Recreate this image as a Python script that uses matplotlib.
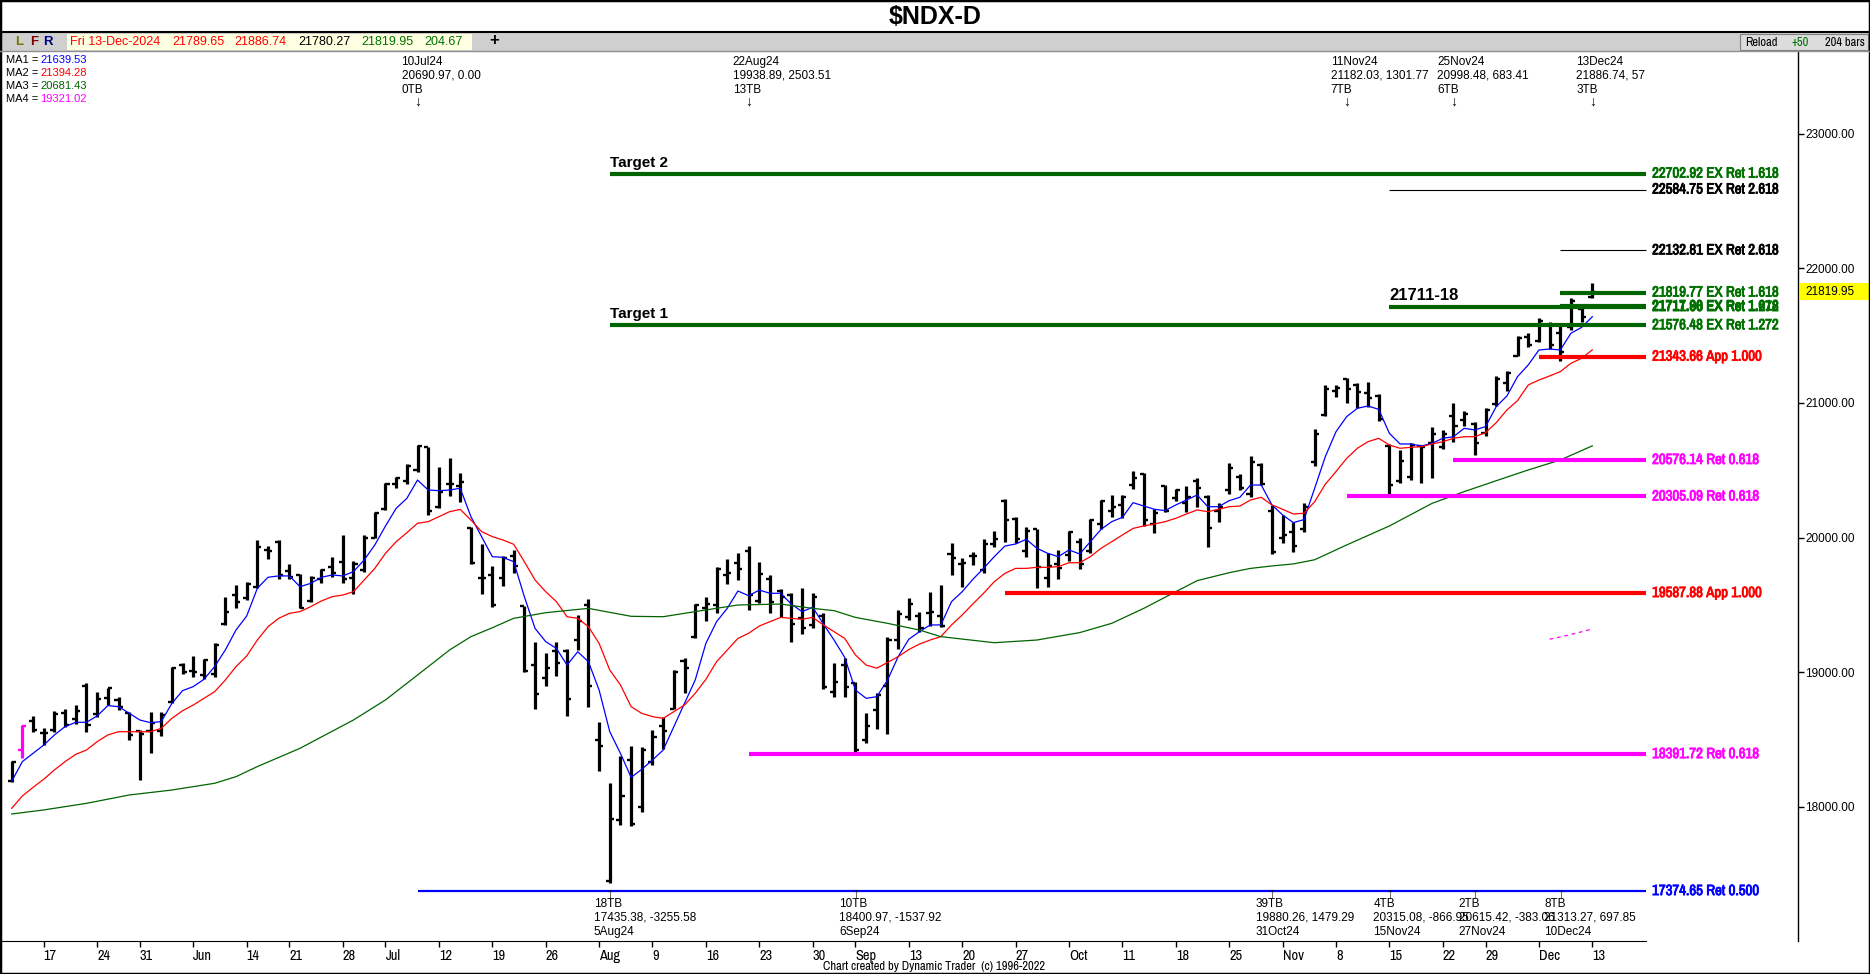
import pandas as pd
import matplotlib
matplotlib.use('Agg')
import matplotlib.pyplot as plt
from matplotlib import font_manager, patheffects
from matplotlib.transforms import blended_transform_factory, offset_copy
from matplotlib.patches import Rectangle

# trading days shown on the chart (May 14 .. Dec 13, 2024)
holidays = ['2024-05-27', '2024-06-19', '2024-07-04', '2024-09-02', '2024-11-28']
dates = pd.bdate_range('2024-05-14', '2024-12-13')
dates = dates[~dates.isin(pd.to_datetime(holidays))]

opens = [
    18190, 18425, 18640, 18545, 18570, 18700, 18650, 18900, 18690, 18810,
    18790, 18700, 18560, 18560, 18560, 18780, 19050, 19010, 18980, 18990,
    19360, 19570, 19550, 19630, 19910, 19970, 19750, 19720, 19530, 19690,
    19780, 19820, 19700, 19760, 20000, 20210, 20400, 20420, 20500, 20670,
    20230, 20400, 20380, 20070, 19700, 19720, 19700, 19860, 19490, 19050,
    18960, 19160, 19160, 19240, 19500, 18500, 17450, 17900, 18350, 18000,
    18330, 18600, 18730, 19080, 19260, 19480, 19500, 19720, 19810, 19900,
    19530, 19690, 19600, 19570, 19400, 19350, 19420, 18850, 19050, 18920,
    18500, 18720, 18900, 19240, 19410, 19420, 19440, 19420, 19880, 19800,
    19860, 19760, 19950, 20270, 20140, 19900, 20060, 19700, 19800, 19870,
    19970, 19900, 20100, 20200, 20240, 20390, 20470, 20100, 20380, 20290,
    20260, 20420, 20300, 20200, 20350, 20450, 20320, 20540, 20200, 20000,
    20040, 20060, 20560, 20910, 21090, 21180, 21130, 21070, 21050, 20680,
    20420, 20450, 20680, 20700, 20670, 20900, 20870, 20840, 20780, 20990,
    21150, 21350, 21490, 21460, 21580, 21520, 21560, 21700, 21790]
highs = [
    18343, 18608, 18675, 18583, 18712, 18724, 18756, 18917, 18855, 18885,
    18818, 18707, 18571, 18707, 18707, 19041, 19066, 19120, 19096, 19219,
    19556, 19648, 19667, 19982, 19937, 19982, 19804, 19729, 19715, 19764,
    19853, 20019, 19828, 20019, 20192, 20408, 20452, 20544, 20691, 20675,
    20526, 20588, 20477, 20081, 19952, 19789, 19863, 19907, 19492, 19227,
    19145, 19227, 19170, 19425, 19541, 18633, 18175, 18378, 18452, 18447,
    18571, 18670, 19016, 19103, 19506, 19561, 19779, 19838, 19888, 19939,
    19821, 19722, 19615, 19591, 19623, 19591, 19442, 19071, 19103, 18930,
    18694, 18848, 19264, 19462, 19552, 19445, 19598, 19648, 19957, 19846,
    19895, 19987, 20051, 20284, 20155, 20076, 20061, 19883, 19908, 20051,
    19994, 20135, 20279, 20316, 20316, 20497, 20482, 20210, 20390, 20358,
    20383, 20440, 20316, 20259, 20556, 20472, 20606, 20556, 20242, 20168,
    20118, 20254, 20804, 21133, 21133, 21182, 21145, 21158, 21066, 20695,
    20650, 20700, 20687, 20819, 20799, 20998, 20942, 20861, 20960, 21200,
    21239, 21497, 21517, 21628, 21603, 21579, 21777, 21720, 21887]
lows = [
    18187, 18360, 18558, 18459, 18553, 18596, 18615, 18558, 18670, 18756,
    18720, 18497, 18200, 18398, 18526, 18769, 18984, 18967, 18947, 18967,
    19351, 19474, 19536, 19623, 19838, 19690, 19690, 19474, 19524, 19665,
    19705, 19665, 19581, 19747, 19994, 20205, 20366, 20398, 20484, 20167,
    20217, 20309, 20267, 19804, 19581, 19482, 19640, 19739, 19004, 18724,
    18900, 18974, 18675, 19165, 18739, 18266, 17435, 17865, 17858, 17964,
    18311, 18427, 18724, 18843, 19251, 19383, 19442, 19655, 19685, 19462,
    19511, 19437, 19407, 19227, 19284, 19326, 18873, 18818, 18818, 18401,
    18472, 18576, 18541, 19170, 19388, 19300, 19343, 19338, 19722, 19635,
    19796, 19739, 19927, 19969, 19957, 19853, 19623, 19630, 19690, 19828,
    19764, 19883, 20061, 20155, 20143, 20358, 20086, 20036, 20192, 20274,
    20192, 20229, 19932, 20118, 20323, 20353, 20299, 20390, 19880, 19957,
    19895, 20044, 20531, 20903, 21046, 20997, 20960, 20967, 20868, 20315,
    20403, 20428, 20403, 20440, 20655, 20712, 20829, 20615, 20754, 20977,
    21091, 21348, 21418, 21455, 21398, 21313, 21541, 21603, 21780]
closes = [
    18330, 18600, 18570, 18550, 18690, 18610, 18710, 18610, 18800, 18880,
    18740, 18530, 18540, 18620, 18680, 19030, 19000, 19000, 19090, 19200,
    19450, 19520, 19655, 19930, 19900, 19720, 19710, 19480, 19700, 19760,
    19740, 19690, 19800, 20000, 20180, 20400, 20440, 20530, 20680, 20200,
    20340, 20400, 20410, 19810, 19700, 19500, 19850, 19790, 19010, 18840,
    19030, 19065, 18800, 19380, 18900, 18450, 17907, 18080, 17870, 18420,
    18520, 18560, 19000, 19030, 19500, 19510, 19770, 19740, 19770, 19570,
    19730, 19520, 19560, 19360, 19330, 19560, 18890, 18930, 18890, 18420,
    18600, 18830, 19240, 19430, 19510, 19330, 19450, 19340, 19850, 19810,
    19860, 19950, 19990, 20130, 19990, 20050, 19780, 19790, 19775, 20040,
    19800, 20130, 20270, 20230, 20300, 20440, 20130, 20180, 20200, 20350,
    20300, 20370, 20070, 20230, 20520, 20370, 20560, 20400, 19890, 20020,
    19940, 20230, 20770, 21100, 21110, 21100, 21080, 21040, 20880, 20390,
    20570, 20690, 20670, 20770, 20770, 20830, 20920, 20700, 20950, 21180,
    21220, 21480, 21430, 21610, 21430, 21380, 21760, 21640, 21820]

# moving averages as drawn on the chart
ma1 = [
    18190, 18336, 18398, 18459, 18534, 18596, 18628, 18628, 18675, 18752,
    18744, 18695, 18645, 18625, 18633, 18769, 18863, 18893, 18947, 19041,
    19165, 19313, 19417, 19623, 19705, 19715, 19715, 19635, 19660, 19705,
    19722, 19715, 19747, 19833, 19945, 20086, 20217, 20291, 20427, 20353,
    20348, 20353, 20366, 20155, 20007, 19858, 19853, 19821, 19561, 19326,
    19227, 19177, 19053, 19152, 19078, 18868, 18558, 18397, 18219, 18279,
    18348, 18422, 18596, 18769, 18942, 19214, 19375, 19474, 19603, 19568,
    19610, 19586, 19586, 19506, 19450, 19482, 19358, 19239, 19110, 18868,
    18806, 18818, 18940, 19115, 19245, 19301, 19351, 19351, 19524, 19598,
    19690, 19771, 19858, 19937, 19952, 19987, 19920, 19883, 19858, 19908,
    19878, 19969, 20061, 20118, 20150, 20259, 20234, 20210, 20200, 20242,
    20279, 20316, 20229, 20229, 20274, 20299, 20390, 20390, 20242, 20168,
    20111, 20133, 20365, 20601, 20786, 20898, 20960, 20977, 20952, 20774,
    20695, 20695, 20680, 20700, 20737, 20749, 20811, 20799, 20824, 20972,
    21051, 21195, 21282, 21393, 21400, 21393, 21517, 21561, 21640]
ma2 = [
    17989, 18081, 18145, 18205, 18274, 18336, 18390, 18422, 18484, 18534,
    18558, 18558, 18558, 18558, 18583, 18657, 18714, 18756, 18806, 18855,
    18942, 19041, 19120, 19239, 19338, 19400, 19437, 19450, 19487, 19529,
    19561, 19573, 19598, 19685, 19771, 19883, 19969, 20036, 20106, 20118,
    20155, 20192, 20209, 20130, 20044, 20007, 19982, 19950, 19821, 19685,
    19598, 19524, 19412, 19400, 19338, 19214, 19016, 18905, 18744, 18694,
    18670, 18657, 18707, 18756, 18843, 18947, 19078, 19165, 19251, 19289,
    19343, 19375, 19407, 19400, 19393, 19407, 19351, 19301, 19251, 19128,
    19053, 19030, 19072, 19115, 19168, 19209, 19239, 19264, 19351, 19425,
    19507, 19586, 19672, 19734, 19771, 19771, 19779, 19779, 19784, 19813,
    19813, 19858, 19920, 19969, 20019, 20068, 20086, 20101, 20118, 20143,
    20175, 20205, 20192, 20210, 20229, 20234, 20279, 20299, 20242, 20210,
    20175, 20180, 20266, 20396, 20490, 20588, 20663, 20712, 20737, 20687,
    20663, 20670, 20675, 20695, 20712, 20737, 20749, 20749, 20779, 20853,
    20947, 21017, 21133, 21170, 21200, 21232, 21294, 21331, 21394]
ma3_idx = [0, 3, 7, 11, 15, 19, 21, 23, 27, 32, 35, 38, 41, 43, 45, 47, 50, 54,
           58, 61, 64, 68, 72, 75, 77, 79, 82, 85, 87, 92, 96, 100, 103, 106,
           109, 111, 114, 116, 118, 120, 122, 125, 129, 133, 136, 139, 142, 145, 148]
ma3_val = [17947, 17977, 18026, 18088, 18125, 18175, 18224, 18299, 18435, 18645,
           18794, 18979, 19165, 19264, 19330, 19400, 19442, 19474, 19415, 19412,
           19450, 19499, 19506, 19474, 19457, 19407, 19363, 19313, 19264, 19219,
           19239, 19294, 19363, 19474, 19598, 19680, 19739, 19771, 19789, 19804,
           19835, 19945, 20086, 20254, 20341, 20422, 20502, 20576, 20681]
ma4_idx = [144, 145, 146, 147, 148]
ma4_val = [19245, 19262, 19280, 19300, 19321]

# horizontal price levels: value, first bar, colour, width, label
levels = [
    (22702.92, 56, '#006400', 3.0, '22702.92 EX Ret 1.618'),
    (22584.75, 129, 'black', 0.8, '22584.75 EX Ret 2.618'),
    (22132.81, 145, 'black', 0.8, '22132.81 EX Ret 2.618'),
    (21819.77, 145, '#006400', 3.0, '21819.77 EX Ret 1.618'),
    (21711.96, 129, '#006400', 3.0, '21711.96 EX Ret 1.272'),
    (21717.80, 145, '#006400', 3.0, '21717.80 EX Ret 1.618'),
    (21576.48, 56, '#006400', 3.0, '21576.48 EX Ret 1.272'),
    (21343.66, 143, '#ff0000', 3.0, '21343.66 App 1.000'),
    (20576.14, 135, '#ff00ff', 3.0, '20576.14 Ret 0.618'),
    (20305.09, 125, '#ff00ff', 3.0, '20305.09 Ret 0.618'),
    (19587.88, 93, '#ff0000', 3.0, '19587.88 App 1.000'),
    (18391.72, 69, '#ff00ff', 3.0, '18391.72 Ret 0.618'),
    (17374.65, 38, '#0000ff', 1.6, '17374.65 Ret 0.500'),
]
level_end = 153

top_notes = [(38, '10Jul24\n20690.97, 0.00\n0TB'),
             (69, '22Aug24\n19938.89, 2503.51\n13TB'),
             (125, '11Nov24\n21182.03, 1301.77\n7TB'),
             (135, '25Nov24\n20998.48, 683.41\n6TB'),
             (148, '13Dec24\n21886.74, 57\n3TB')]
bottom_notes = [(56, '18TB\n17435.38, -3255.58\n5Aug24'),
                (79, '10TB\n18400.97, -1537.92\n6Sep24'),
                (118, '39TB\n19880.26, 1479.29\n31Oct24'),
                (129, '4TB\n20315.08, -866.95\n15Nov24'),
                (137, '2TB\n20615.42, -383.06\n27Nov24'),
                (145, '8TB\n21313.27, 697.85\n10Dec24')]

ma_legend = [('MA1 =', '21639.53', '#0000ff'), ('MA2 =', '21394.28', '#ff0000'),
             ('MA3 =', '20681.43', '#006400'), ('MA4 =', '19321.02', '#ff00ff')]

plt.rcParams['font.family'] = ['Liberation Sans', 'DejaVu Sans']

# pick a narrow face for the condensed labels, whatever is installed
ttf = font_manager.fontManager.ttflist
narrow_names = sorted({f.name for f in ttf
                       if 'Narrow' in f.name or 'Condensed' in f.name
                       or 'Narrow' in f.fname or 'Condensed' in f.fname})
if 'Liberation Sans Narrow' in narrow_names:
    NARROW = dict(family='Liberation Sans Narrow')
    HAVE_NARROW = True
elif narrow_names:
    NARROW = dict(family=narrow_names[0], fontstretch='condensed')
    HAVE_NARROW = True
else:
    NARROW = dict(family='Liberation Sans')
    HAVE_NARROW = False


def weight_of(f):
    w = f.weight
    if isinstance(w, str):
        w = font_manager.weight_dict.get(w, 400)
    return w


narrow_bold = any(f.name == NARROW['family'] and weight_of(f) >= 600 for f in ttf)

W, H = 1870, 974
fig = plt.figure(figsize=(W / 100, H / 100), dpi=100)
fig.patch.set_facecolor('white')
renderer = fig.canvas.get_renderer()


def fx(x):
    return x / W


def fy(y):
    return 1 - y / H


def fit(text, width_px, size_max, **kw):
    t = fig.text(0, 0, text, fontsize=10, **kw)
    w = t.get_window_extent(renderer).width
    t.remove()
    return min(size_max, 10 * width_px / w)


TOP, BOT, RIGHT = 51, 941, 1798
ax = fig.add_axes([0, fy(BOT), fx(RIGHT), (BOT - TOP) / H])
ax.set_xlim(-1.096, 167.26)
ax.set_ylim(17003.7, 23613.4)

n = len(dates)
idx = list(range(n))

# OHLC bars
bar_colors = ['black'] * n
bar_colors[1] = '#ff00ff'
ax.vlines(idx, lows, highs, colors=bar_colors, lw=2.3)
ax.hlines(opens, [i - 0.38 for i in idx], idx, colors=bar_colors, lw=1.7)
ax.hlines(closes, idx, [i + 0.38 for i in idx], colors=bar_colors, lw=1.7)

ax.plot(idx, ma1, color='#0000ff', lw=0.9)
ax.plot(idx, ma2, color='#ff0000', lw=0.9)
ax.plot(ma3_idx, ma3_val, color='#006400', lw=0.9)
ax.plot(ma4_idx, ma4_val, color='#ff00ff', lw=0.9, ls=(0, (3, 3)))

lvl_width = 126 if HAVE_NARROW else 141
lvl_size = fit('22702.92 EX Ret 1.618', lvl_width, 11, fontweight='bold', **NARROW)
for val, start, col, lw, lab in levels:
    ax.hlines(val, start, level_end, color=col, lw=lw)
    tcol = col if col != '#006400' else '#007000'
    pe = None if narrow_bold else [patheffects.withStroke(linewidth=0.6, foreground=tcol)]
    ax.text(153.6, val, lab, color=tcol, fontsize=lvl_size, fontweight='bold',
            va='center', ha='left', path_effects=pe, **NARROW)

up = offset_copy(ax.transData, fig=fig, y=4, units='dots')
ax.text(56, 22702.92, 'Target 2', transform=up, fontsize=11, fontweight='bold', va='bottom')
ax.text(56, 21576.48, 'Target 1', transform=up, fontsize=11, fontweight='bold', va='bottom')
ax.text(129, 21711.96, '21711-18', transform=up, fontsize=12, fontweight='bold', va='bottom')

# swing annotations
bt = blended_transform_factory(ax.transData, fig.transFigure)
bt_left = offset_copy(bt, fig=fig, x=-16, units='dots')
for i, txt in top_notes:
    ax.text(i, fy(56), txt, transform=bt_left, fontsize=8.5, va='top', ha='left',
            linespacing=1.2, clip_on=False)
    ax.text(i, fy(102), '\u2193', transform=bt, fontsize=10, va='center', ha='center')
for i, txt in bottom_notes:
    ax.text(i, fy(898), txt, transform=bt_left, fontsize=8.5, va='top', ha='left',
            linespacing=1.2, clip_on=False)
    ax.text(i, fy(894), '\u2191', transform=bt, fontsize=10, va='center', ha='center')

# axes styling
for s in ['left', 'top']:
    ax.spines[s].set_visible(False)
ax.spines['bottom'].set_bounds(-1.096, level_end)
ax.spines['right'].set_linewidth(1)
ax.yaxis.tick_right()
yt = list(range(18000, 23001, 1000))
ax.set_yticks(yt)
ax.set_yticklabels(['%.2f' % v for v in yt])
ax.tick_params(axis='y', direction='out', length=4, width=1, pad=1, labelsize=8.5)

fri = [i for i, d in enumerate(dates) if d.weekday() == 4]
fri_lab = []
for i in fri:
    d = dates[i]
    fri_lab.append(d.strftime('%b') if d.day <= 7 else str(d.day))
xt_size = fit('Aug', 21, 10.5, **NARROW) if HAVE_NARROW else 9.5
ax.set_xticks(fri)
ax.set_xticklabels(fri_lab, fontsize=xt_size, ha='left', **NARROW)
ax.tick_params(axis='x', direction='out', length=4, width=1, pad=2)

# MA legend
for k, (lab, val, col) in enumerate(ma_legend):
    y = fy(60 + 13 * k)
    fig.text(fx(6), y, lab, fontsize=8, va='center', ha='left')
    fig.text(fx(40), y, val, fontsize=8, va='center', ha='left', color=col)

# last price box
fig.patches.append(Rectangle((fx(1800), fy(300)), fx(70), 17 / H, transform=fig.transFigure,
                             facecolor='#ffff00', edgecolor='none'))
fig.text(fx(1805), fy(292), '21819.95', fontsize=8.5, va='center', ha='left')

# title and toolbar
fig.text(0.5, fy(17), '\\$NDX-D', fontsize=18, fontweight='bold', ha='center', va='center')
fig.patches.append(Rectangle((0, fy(51)), 1, 19 / H, transform=fig.transFigure,
                             facecolor='#cfcfcf', edgecolor='none'))
fig.lines.append(plt.Line2D([0, 1], [fy(32), fy(32)], transform=fig.transFigure,
                            color='black', lw=1.5))
fig.lines.append(plt.Line2D([0, 1], [fy(51), fy(51)], transform=fig.transFigure,
                            color='#909090', lw=1))
fig.patches.append(Rectangle((fx(67), fy(50)), fx(405), 16 / H, transform=fig.transFigure,
                             facecolor='#ffffe1', edgecolor='none'))
for x, t, c in [(15, 'L', '#7a7a00'), (30, 'F', '#800000'), (43, 'R', '#000080')]:
    fig.text(fx(x), fy(42), t, fontsize=9.5, fontweight='bold', color=c, va='center')
for x, t, c in [(70, 'Fri 13-Dec-2024', '#ff0000'), (172, '21789.65', '#ff0000'),
                (234, '21886.74', '#ff0000'), (298, '21780.27', 'black'),
                (361, '21819.95', '#007000'), (424, '204.67', '#007000')]:
    fig.text(fx(x), fy(42), t, fontsize=9, color=c, va='center')
fig.text(fx(489), fy(41), '+', fontsize=12, fontweight='bold', va='center')
fig.patches.append(Rectangle((fx(1740), fy(50)), fx(128), 16 / H, transform=fig.transFigure,
                             facecolor='#dcdcdc', edgecolor='#808080', lw=0.8))
tb_size = fit('204 bars', 40, 9, **NARROW)
fig.text(fx(1745), fy(42), 'Reload', fontsize=tb_size, va='center', **NARROW)
fig.text(fx(1791), fy(42), '+50', fontsize=tb_size, va='center', color='#007000', **NARROW)
fig.text(fx(1825), fy(42), '204 bars', fontsize=tb_size, va='center', **NARROW)

cr_size = fit('Chart created by Dynamic Trader  (c) 1996-2022', 236, 9, **NARROW)
fig.text(fx(934), fy(966), 'Chart created by Dynamic Trader  (c) 1996-2022', fontsize=cr_size,
         ha='center', va='center', **NARROW)

fig.patches.append(Rectangle((0, 0), 1, 1, transform=fig.transFigure, facecolor='none',
                             edgecolor='black', lw=2.5))

fig.savefig('out.png', dpi=100)
